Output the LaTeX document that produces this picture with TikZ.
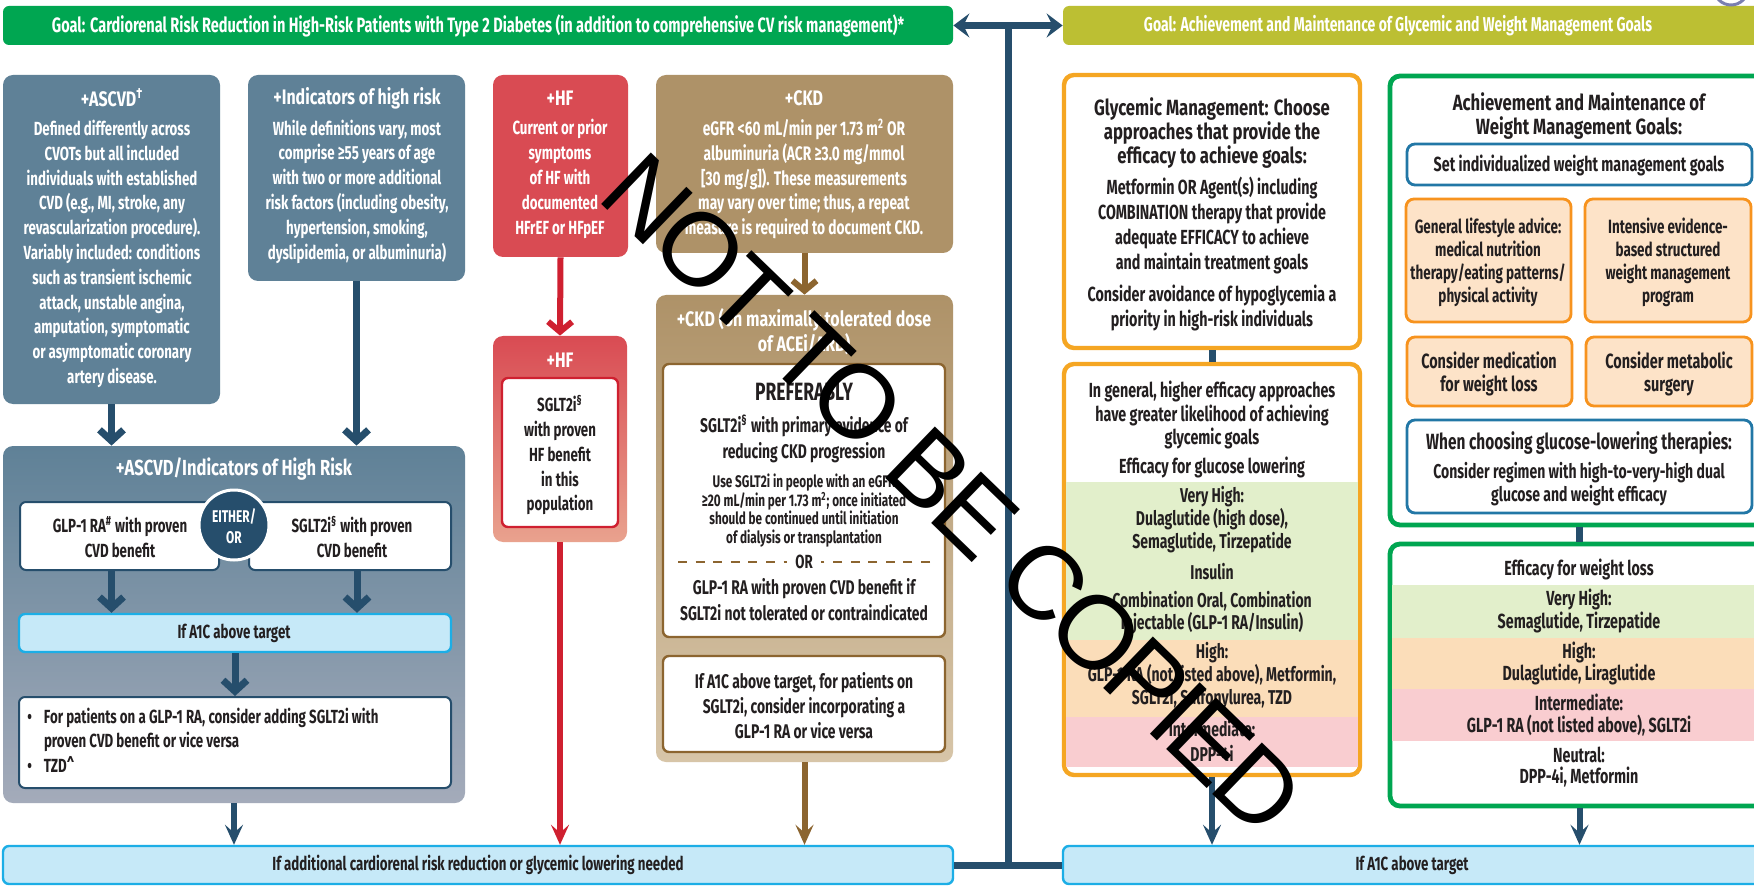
\documentclass[tikz,border=0pt]{standalone}
\usepackage{fontspec}
\setmainfont{Fira Sans}[FakeStretch=0.7]
\newfontfamily\hdfont{Fira Sans}[FakeStretch=0.76]
\newfontfamily\wmfont{Liberation Sans}[LetterSpace=-5]
\usetikzlibrary{fit,arrows.meta}

\definecolor{cNavy}{HTML}{264E6C}
\definecolor{cSlate}{HTML}{5F8197}
\definecolor{cSlateB}{HTML}{A4ABBA}
\definecolor{cGreen}{HTML}{00A651}
\definecolor{cOlive}{HTML}{BCBF33}
\definecolor{cRedBox}{HTML}{D94B53}
\definecolor{cRedBoxB}{HTML}{E9A28E}
\definecolor{cRed}{HTML}{CF2030}
\definecolor{cTan}{HTML}{AE9268}
\definecolor{cTanB}{HTML}{D7C5A8}
\definecolor{cBrown}{HTML}{8C6530}
\definecolor{cOrange}{HTML}{F5A623}
\definecolor{cOrangeBox}{HTML}{F7931E}
\definecolor{cOrangeFill}{HTML}{FDE3C8}
\definecolor{cLBlue}{HTML}{C6E9F8}
\definecolor{cBlueEdge}{HTML}{1CAEE6}
\definecolor{cWBlue}{HTML}{2277A6}
\definecolor{cBandG}{HTML}{E2EFCB}
\definecolor{cBandO}{HTML}{FBDDB9}
\definecolor{cBandP}{HTML}{F9CDD0}
\definecolor{cText}{HTML}{231F20}
\definecolor{cRing}{HTML}{7A7FB0}

\newcommand\fBody{\bfseries\fontsize{9.5}{12.4}\selectfont}
\newcommand\fBodyR{\bfseries\fontsize{10.2}{12.5}\selectfont}
\newcommand\fHead{\hdfont\bfseries\fontsize{10.5}{12.4}\selectfont}
\newcommand\fHeadL{\hdfont\bfseries\fontsize{10.9}{13}\selectfont}
\newcommand\fBig{\hdfont\bfseries\fontsize{11}{12}\selectfont}
\newcommand\fSmall{\bfseries\fontsize{8.4}{9.2}\selectfont}
\newcommand\fPref{\bfseries\fontsize{12.5}{13}\selectfont}
\newcommand\fBan{\bfseries\fontsize{10}{11}\selectfont}
\newcommand\fBanL{\bfseries\fontsize{10.4}{11}\selectfont}
\newcommand\fCirc{\bfseries\fontsize{8.5}{10.5}\selectfont}

\begin{document}
\begin{tikzpicture}[x=0.5pt,y=-0.5pt,
  panel/.style={inner sep=0pt, rounded corners=5pt},
  wt/.style={text=white, align=center, inner sep=0pt, font=\fBody},
  dt/.style={text=cText, align=center, inner sep=0pt, font=\fBody},
  rt/.style={text=cText, align=center, inner sep=0pt, font=\fBodyR},
  navyarr/.style={draw=cNavy, line width=3.5pt, -{Straight Barb[length=5.5pt,width=12pt]}},
  endarr/.style={line width=3pt, -{Stealth[length=10pt,width=9pt,inset=4pt]}},
  band/.style={inner sep=0pt}]

\useasboundingbox[fill=white] (0,0) rectangle (1754,887);

% ---------- goal banners ----------
\node[panel, rounded corners=3pt, fill=cGreen, fit={(3,6)(953,45)}] (goalL) {};
\node[wt, font=\fBanL] (goalLt) at (478,25.5) {Goal: Cardiorenal Risk Reduction in High-Risk Patients with Type 2 Diabetes (in addition to comprehensive CV risk management)*};
\node[panel, rounded corners=3pt, fill=cOlive, fit={(1063,6)(1775,45)}] (goalR) {};
\node[wt, font=\fBan] (goalRt) at (1398,25.5) {Goal: Achievement and Maintenance of Glycemic and Weight Management Goals};
% ring partly cut by the top edge
\node[circle, draw=cRing, line width=1.5pt, minimum size=17pt, inner sep=0pt] (ring) at (1731,-12) {};

% ---------- bottom bars ----------
\node[panel, rounded corners=3pt, fill=cLBlue, draw=cBlueEdge, line width=1.2pt, fit={(3,846)(953,884)}] (barL) {};
\node[dt] (barLt) at (478,865) {If additional cardiorenal risk reduction or glycemic lowering needed};
\node[panel, rounded corners=3pt, fill=cLBlue, draw=cBlueEdge, line width=1.2pt, fit={(1063,846)(1775,884)}] (barR) {};
\node[dt] (barRt) at (1412,865) {If A1C above target};

% ---------- central hub ----------
\coordinate (hubT) at (1008,25.5);
\coordinate (hubB) at (1008,865);
\draw[cNavy, line width=3.5pt] (hubT) -- (hubB);
\draw[cNavy, line width=3.5pt, {Stealth[length=8pt,width=12pt,inset=3pt]}-{Stealth[length=8pt,width=12pt,inset=3pt]}] (goalL) -- (goalR);
\draw[cNavy, line width=3.5pt] (barL) -- (barR);

% ---------- ASCVD column ----------
\node[panel, fill=cSlate, fit={(3,75)(220,404)}] (ascvd) {};
\node[wt, font=\fHead] (ascvdT) at (112,98) {+ASCVD\textsuperscript{†}};
\node[wt] (ascvdB) at (112,254) {Defined differently across\\CVOTs but all included\\individuals with established\\CVD (e.g., MI, stroke, any\\revascularization procedure).\\Variably included: conditions\\such as transient ischemic\\attack, unstable angina,\\amputation, symptomatic\\or asymptomatic coronary\\artery disease.};

\node[panel, fill=cSlate, fit={(248,75)(465,281)}] (ind) {};
\node[wt, font=\fHead] (indT) at (357,98) {+Indicators of high risk};
\node[wt] (indB) at (357,191.5) {While definitions vary, most\\comprise ≥55 years of age\\with two or more additional\\risk factors (including obesity,\\hypertension, smoking,\\dyslipidemia, or albuminuria)};

\node[panel, top color=cSlate, bottom color=cSlateB, fit={(3,446)(465,803)}] (big) {};
\node[wt, font=\fHeadL] (bigT) at (234,469) {+ASCVD/Indicators of High Risk};

\draw[navyarr] (ascvd.south) -- (ascvd.south |- big.north);
\draw[navyarr] (ind.south) -- (ind.south |- big.north);

\node[panel, rounded corners=3pt, fill=white, draw=cNavy, line width=1pt, fit={(20,502)(219,570)}] (glp) {};
\node[dt] (glpT) at (120,537) {GLP-1 RA\textsuperscript{\#} with proven\\CVD benefit};
\node[panel, rounded corners=3pt, fill=white, draw=cNavy, line width=1pt, fit={(249,502)(451,570)}] (sglt) {};
\node[dt] (sgltT) at (352,537) {SGLT2i\textsuperscript{§} with proven\\CVD benefit};
\node[circle, fill=cNavy, draw=white, line width=1.5pt, minimum size=35pt, inner sep=0pt] (either) at (234,525) {};
\node[wt, font=\fCirc] (eitherT) at (234,526) {EITHER/\\OR};

\node[panel, rounded corners=3pt, fill=cLBlue, draw=cBlueEdge, line width=1.2pt, fit={(19,614)(451,652)}] (a1c) {};
\node[dt] (a1cT) at (234,633) {If A1C above target};
\coordinate (sgltS) at (357,570);
\draw[navyarr] (glp.south -| ascvd.south) -- (ascvd.south |- a1c.north);
\draw[navyarr] (sgltS) -- (sgltS |- a1c.north);

\node[panel, rounded corners=3pt, fill=white, draw=cNavy, line width=1pt, fit={(19,697)(451,788)}] (bul) {};
\draw[navyarr] (a1c.south) -- (bul.north);
\node[dt, anchor=west, align=left] (bulT) at (27,743) {\begin{tabular}{@{}l@{\hspace{6pt}}l@{}}
\textbullet & For patients on a GLP-1 RA, consider adding SGLT2i with\\
 & proven CVD benefit or vice versa\\
\textbullet & TZD\textasciicircum
\end{tabular}};

\draw[endarr, cNavy] (big.south) -- (big.south |- barL.north);

% ---------- HF column ----------
\node[panel, fill=cRedBox, fit={(493,75)(628,257)}] (hf1) {};
\node[wt, font=\fHead] (hf1T) at (560,98) {+HF};
\node[wt] (hf1B) at (560,179) {Current or prior\\symptoms\\of HF with\\documented\\HFrEF or HFpEF};

\node[panel, top color=cRedBox, bottom color=cRedBoxB, fit={(493,336)(627,542)}] (hf2) {};
\node[wt, font=\fHead] (hf2T) at (560,360) {+HF};
\node[panel, rounded corners=3pt, fill=white, draw=cRed, line width=1.2pt, fit={(502,378)(618,527)}] (hf2in) {};
\node[dt] (hf2B) at (560,455) {SGLT2i\textsuperscript{§}\\with proven\\HF benefit\\in this\\population};

\draw[cRed, line width=3pt, -{Straight Barb[length=5pt,width=12pt]}] (hf1.south) -- (hf2.north);
\draw[endarr, cRed] (hf2.south) -- (hf2.south |- barL.north);

% ---------- CKD column ----------
\node[panel, fill=cTan, fit={(656,75)(953,253)}] (ckd1) {};
\node[wt, font=\fHead] (ckd1T) at (804,98) {+CKD};
\node[wt, font=\bfseries\fontsize{9.8}{12.4}\selectfont] (ckd1B) at (804,179) {eGFR <60 mL/min per 1.73 m\textsuperscript{2} OR\\albuminuria (ACR ≥3.0 mg/mmol\\{[}30 mg/g{]}). These measurements\\may vary over time; thus, a repeat\\measure is required to document CKD.};

\node[panel, top color=cTan, bottom color=cTanB, fit={(656,295)(953,762)}] (ckd2) {};
\node[wt, font=\fHead] (ckd2T) at (804,331.5) {+CKD (on maximally tolerated dose\\of ACEi/ARB)};
\draw[cBrown, line width=3pt, -{Straight Barb[length=5pt,width=12pt]}] (ckd1.south) -- (ckd2.north);

\node[panel, rounded corners=3pt, fill=white, draw=cBrown, line width=1.2pt, fit={(663,364)(945,637)}] (pref) {};
\node[dt, font=\fPref] (prefT) at (804,392) {PREFERABLY};
\node[dt, font=\bfseries\fontsize{9.9}{13}\selectfont] (prefA) at (804,439) {SGLT2i\textsuperscript{§} with primary evidence of\\reducing CKD progression};
\node[dt, font=\fSmall] (prefB) at (804,510.5) {Use SGLT2i in people with an eGFR\\≥20 mL/min per 1.73 m\textsuperscript{2}; once initiated\\should be continued until initiation\\of dialysis or transplantation};
\node[dt] (orT) at (804,562) {OR};
\coordinate (dashL) at (678,562);
\coordinate (dashR) at (930,562);
\draw[cBrown, line width=1.2pt, dash pattern=on 4.5pt off 4.3pt] (dashL) -- ([xshift=-4pt]orT.west);
\draw[cBrown, line width=1.2pt, dash pattern=on 4.5pt off 4.3pt] (dashR) -- ([xshift=4pt]orT.east);
\node[dt, font=\bfseries\fontsize{9.9}{13}\selectfont] (prefC) at (804,600) {GLP-1 RA with proven CVD benefit if\\SGLT2i not tolerated or contraindicated};

\node[panel, rounded corners=3pt, fill=white, draw=cBrown, line width=1.2pt, fit={(663,656)(945,752)}] (ckdA1c) {};
\node[dt, font=\bfseries\fontsize{9.9}{12.5}\selectfont] (ckdA1cT) at (804,706) {If A1C above target, for patients on\\SGLT2i, consider incorporating a\\GLP-1 RA or vice versa};

\draw[endarr, cBrown] (ckd2.south) -- (ckd2.south |- barL.north);

% ---------- glycemic management ----------
\node[panel, fill=white, draw=cOrange, line width=2.2pt, fit={(1064,75)(1360,348)}] (g1) {};
\node[dt, font=\fBig] (g1T) at (1212,133) {Glycemic Management: Choose\\approaches that provide the\\efficacy to achieve goals:};
\node[rt] (g1A) at (1212,225.5) {Metformin OR Agent(s) including\\COMBINATION therapy that provide\\adequate EFFICACY to achieve\\and maintain treatment goals};
\node[rt] (g1B) at (1212,307.5) {Consider avoidance of hypoglycemia a\\priority in high-risk individuals};

\node[panel, fill=white, draw=cOrange, line width=2.2pt, fit={(1064,364)(1360,775)}] (g2) {};
\node[band, fill=cBandG, fit={(1066.2,482)(1357.8,640)}] (gVH) {};
\node[band, fill=cBandO, fit={(1066.2,640)(1357.8,717)}] (gH) {};
\node[band, fill=cBandP, fit={(1066.2,717)(1357.8,767)}] (gI) {};
\draw[cNavy, line width=3.5pt] (g1.south) -- (g2.north);

\node[rt, font=\bfseries\fontsize{10.2}{11.6}\selectfont] (g2A) at (1212,415) {In general, higher efficacy approaches\\have greater likelihood of achieving\\glycemic goals};
\node[rt] (g2B) at (1212,467) {Efficacy for glucose lowering};
\node[rt, font=\bfseries\fontsize{10}{11.5}\selectfont] (g2C) at (1212,520) {Very High:\\Dulaglutide (high dose),\\Semaglutide, Tirzepatide};
\node[rt, font=\bfseries\fontsize{10}{11.5}\selectfont] (g2D) at (1212,572) {Insulin};
\node[rt, font=\bfseries\fontsize{10}{11}\selectfont] (g2E) at (1212,613) {Combination Oral, Combination\\Injectable (GLP-1 RA/Insulin)};
\node[rt, font=\bfseries\fontsize{10}{11.5}\selectfont] (g2F) at (1212,676) {High:\\GLP-1 RA (not listed above), Metformin,\\SGLT2i, Sulfonylurea, TZD};
\node[rt, font=\bfseries\fontsize{10}{12.5}\selectfont] (g2G) at (1212,740.5) {Intermediate:\\DPP-4i};

\draw[endarr, cNavy] (g2.south) -- (g2.south |- barR.north);

% ---------- weight management ----------
\node[panel, fill=white, draw=cGreen, line width=2.4pt, fit={(1390,76)(1780,525)}] (w1) {};
\node[dt, font=\fBig] (w1T) at (1579,116) {Achievement and Maintenance of\\Weight Management Goals:};
\node[panel, rounded corners=4pt, fill=white, draw=cWBlue, line width=1.4pt, fit={(1407,144)(1752,185)}] (wset) {};
\node[rt] (wsetT) at (1579,165) {Set individualized weight management goals};

\node[panel, rounded corners=4pt, fill=cOrangeFill, draw=cOrangeBox, line width=1.4pt, fit={(1406,199)(1571,322)}] (wA) {};
\node[dt, font=\bfseries\fontsize{9.6}{11.5}\selectfont] (wAT) at (1488,262.5) {General lifestyle advice:\\medical nutrition\\therapy/eating patterns/\\physical activity};
\node[panel, rounded corners=4pt, fill=cOrangeFill, draw=cOrangeBox, line width=1.4pt, fit={(1585,199)(1751,322)}] (wB) {};
\node[dt, font=\bfseries\fontsize{9.6}{11.5}\selectfont] (wBT) at (1668,262.5) {Intensive evidence-\\based structured\\weight management\\program};
\node[panel, rounded corners=4pt, fill=cOrangeFill, draw=cOrangeBox, line width=1.4pt, fit={(1407,337)(1572,406)}] (wC) {};
\node[dt, font=\bfseries\fontsize{10.3}{11.5}\selectfont] (wCT) at (1489,373.5) {Consider medication\\for weight loss};
\node[panel, rounded corners=4pt, fill=cOrangeFill, draw=cOrangeBox, line width=1.4pt, fit={(1586,337)(1752,406)}] (wD) {};
\node[dt, font=\bfseries\fontsize{10.3}{11.5}\selectfont] (wDT) at (1669,373.5) {Consider metabolic\\surgery};

\node[panel, rounded corners=4pt, fill=white, draw=cWBlue, line width=1.4pt, fit={(1407,420)(1752,513)}] (wE) {};
\node[dt, font=\bfseries\fontsize{11}{12}\selectfont] (wET) at (1579,443) {When choosing glucose-lowering therapies:};
\node[rt, font=\bfseries\fontsize{10}{11.5}\selectfont] (wEB) at (1579,484.5) {Consider regimen with high-to-very-high dual\\glucose and weight efficacy};

\node[panel, fill=white, draw=cGreen, line width=2.4pt, fit={(1390,544)(1780,806)}] (w2) {};
\node[band, fill=cBandG, fit={(1392.4,585)(1760,638)}] (wVH) {};
\node[band, fill=cBandO, fit={(1392.4,638)(1760,689)}] (wH) {};
\node[band, fill=cBandP, fit={(1392.4,689)(1760,741)}] (wI) {};
\draw[cNavy, line width=3.5pt] (wset |- w1.south) -- (wset |- w2.north);

\node[rt] (w2A) at (1579,569) {Efficacy for weight loss};
\node[rt, font=\bfseries\fontsize{10.2}{11.5}\selectfont] (w2B) at (1579,610.5) {Very High:\\Semaglutide, Tirzepatide};
\node[rt, font=\bfseries\fontsize{10.2}{11}\selectfont] (w2C) at (1579,663) {High:\\Dulaglutide, Liraglutide};
\node[rt, font=\bfseries\fontsize{10.2}{11}\selectfont] (w2D) at (1579,715) {Intermediate:\\GLP-1 RA (not listed above), SGLT2i};
\node[rt, font=\bfseries\fontsize{10.2}{10.5}\selectfont] (w2E) at (1579,767.5) {Neutral:\\DPP-4i, Metformin};

\draw[endarr, cNavy] (wset |- w2.south) -- (wset |- barR.north);

% ---------- overprinted notice ----------
\node[inner sep=0pt, rotate=-44, font=\wmfont\fontsize{52}{52}\selectfont, text=black] (notice) at (953,494) {NOT TO BE COPIED};
\end{tikzpicture}
\end{document}
